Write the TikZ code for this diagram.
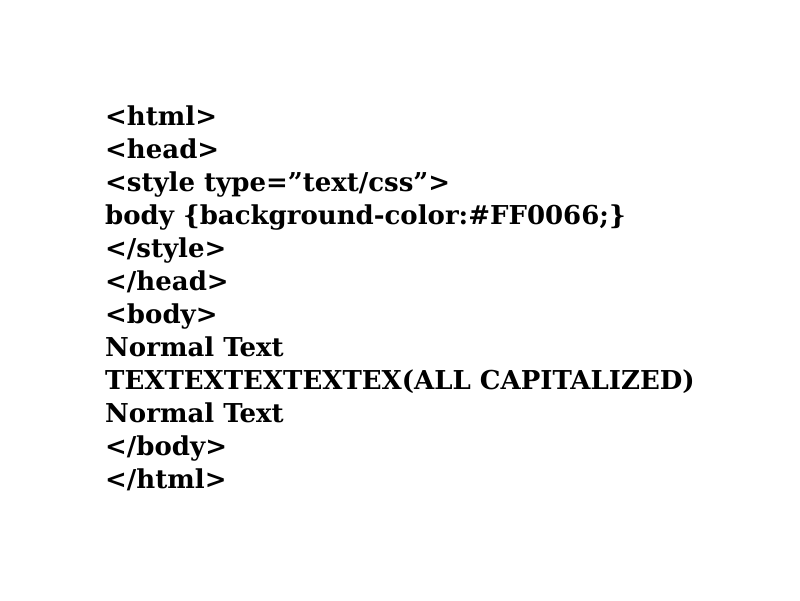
\documentclass[tikz,border=0pt]{standalone}
\usepackage{fontspec}
\setmainfont{DejaVu Serif}[Ligatures=ResetAll]
\begin{document}
\begin{tikzpicture}[x=1pt,y=-1pt,ln/.style={anchor=base west,inner sep=0pt,font=\fontsize{26}{30}\selectfont\bfseries}]
\useasboundingbox (0,0) rectangle (800,600);
\foreach \t [count=\i from 0] in {<html>,<head>,{<style type="text/css">},{body \{background-color:\#FF0066;\}},</style>,</head>,<body>,Normal Text,TEXTEXTEXTEXTEX(ALL CAPITALIZED),Normal Text,</body>,</html>}
  \node[ln] (l\i) at (105,125+33*\i) {\t};
\end{tikzpicture}
\end{document}
